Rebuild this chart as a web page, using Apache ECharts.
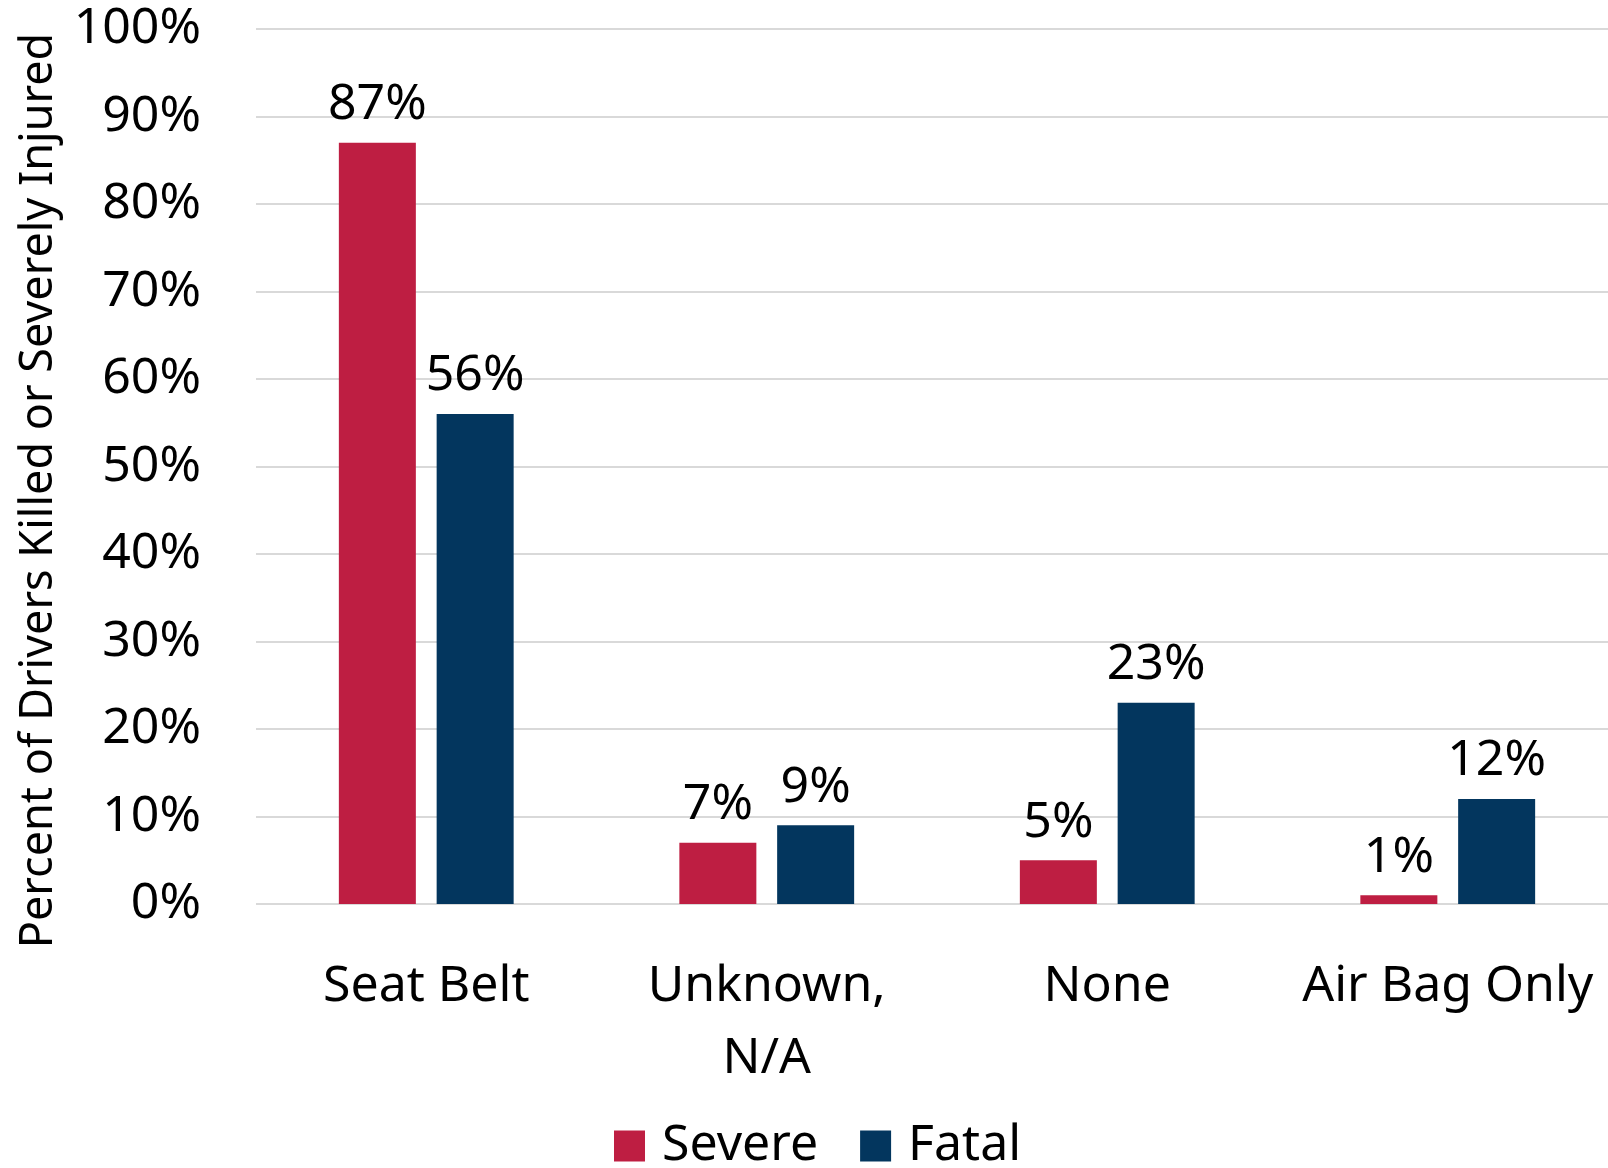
<!DOCTYPE html>
<html>
<head>
<meta charset="utf-8">
<script src="https://cdn.jsdelivr.net/npm/echarts@6/dist/echarts.min.js"></script>
<style>
	html, body { margin: 0; padding: 0; background: #fff; }
	#chart { width: 1608px; height: 1168px; }
</style>
</head>
<body>
<div id="chart"></div>
<script>
	// data
	var categories = ['Seat Belt', 'Unknown,\nN/A', 'None', 'Air Bag Only']
	var severeData = [87, 7, 5, 1]
	var fatalData = [56, 9, 23, 12]
	var yTicks = [0, 10, 20, 30, 40, 50, 60, 70, 80, 90, 100]

	var font = 'Noto Sans'
	var myChart = echarts.init(document.getElementById('chart'))

	var barLabel = {
		show: true,
		position: 'top',
		distance: 13,
		color: '#000',
		fontSize: 50,
		fontFamily: font,
		formatter: '{c}%'
	}

	var option = {
		animation: false,
		color: ['#BE1E42', '#03365E'],
		textStyle: { fontFamily: font },
		legend: {
			top: 1116,
			left: 609,
			itemWidth: 31,
			itemHeight: 31,
			itemGap: 42,
			icon: 'rect',
			textStyle: { fontSize: 50, lineHeight: 50, color: '#000', fontFamily: font, padding: [0, 0, 0, 12] },
			data: ['Severe', 'Fatal']
		},
		//plot runs a little past the right edge, as in the picture
		grid: {
			left: 256,
			width: 1362,
			top: 29,
			bottom: 264,
			outerBoundsMode: 'none'
		},
		xAxis: {
			type: 'category',
			data: categories,
			axisLine: { show: false },
			axisTick: { show: false },
			axisLabel: {
				color: '#000',
				fontSize: 50,
				fontFamily: font,
				margin: 47,
				lineHeight: 72,
				interval: 0
			}
		},
		yAxis: {
			type: 'value',
			min: yTicks[0],
			max: yTicks[yTicks.length - 1],
			interval: 10,
			name: 'Percent of Drivers Killed or Severely Injured',
			nameLocation: 'middle',
			nameGap: 194,
			nameTextStyle: { color: '#000', fontSize: 45, fontFamily: font, padding: [0, 48, 0, 0] },
			axisLine: { show: false },
			axisTick: { show: false },
			splitLine: { lineStyle: { color: '#D9D9D9', width: 2 } },
			axisLabel: {
				color: '#000',
				fontSize: 50,
				fontFamily: font,
				margin: 55,
				formatter: '{value}%'
			}
		},
		series: [{
			name: 'Severe',
			type: 'bar',
			data: severeData,
			barWidth: 77,
			barGap: '27%',
			label: barLabel
		}, {
			name: 'Fatal',
			type: 'bar',
			data: fatalData,
			barWidth: 77,
			barGap: '27%',
			label: barLabel
		}]
	}
	myChart.setOption(option)
</script>
</body>
</html>
